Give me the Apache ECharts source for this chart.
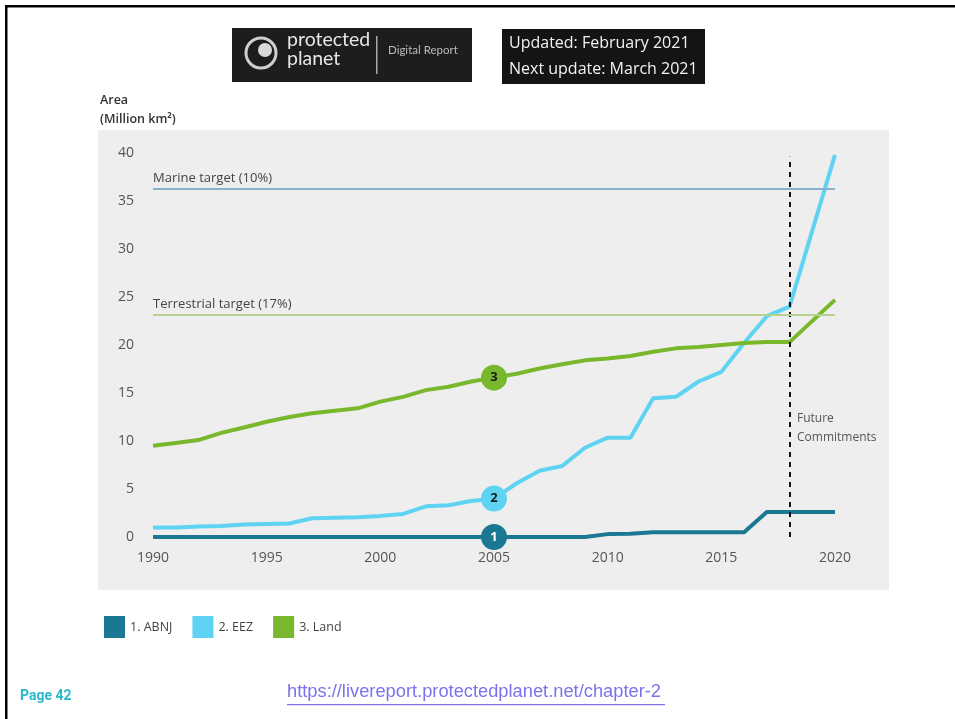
<!DOCTYPE html>
<html>
<head>
<meta charset="utf-8">
<script src="https://cdn.jsdelivr.net/npm/echarts@6/dist/echarts.min.js"></script>
<style>
html,body{margin:0;padding:0;background:#fff;}
#chart{width:955px;height:719px;}
</style>
</head>
<body>
<div id="chart"></div>
<script>
const years = [1990,1991,1992,1993,1994,1995,1996,1997,1998,1999,2000,2001,2002,2003,2004,2005,2006,2007,2008,2009,2010,2011,2012,2013,2014,2015,2016,2017,2018,2020];
const abnj = [0,0,0,0,0,0,0,0,0,0,0,0,0,0,0,0,0,0,0,0,0.3,0.35,0.5,0.5,0.5,0.5,0.5,2.6,2.6,2.6];
const eez  = [1.0,1.0,1.1,1.15,1.3,1.35,1.4,1.95,2.0,2.05,2.2,2.4,3.2,3.3,3.75,4.0,5.6,6.9,7.4,9.3,10.35,10.35,14.45,14.6,16.2,17.2,20.2,23.0,24.0,39.8];
const land = [9.5,9.8,10.1,10.85,11.4,12.0,12.5,12.9,13.15,13.4,14.1,14.6,15.3,15.65,16.2,16.6,17.0,17.55,18.0,18.4,18.6,18.85,19.3,19.65,19.8,20.0,20.2,20.3,20.3,24.7];
const seriesNames = ['1. ABNJ','2. EEZ','3. Land'];
const bubbleLabels = ['1','2','3'];
const bubbleYear = 2005;
const marineTarget = 36.3;
const terrestrialTarget = 23.1;
const futureYear = 2018;
const xTicks = {min:1990, max:2020, interval:5};
const yTicks = {min:0, max:40, interval:5};

const colors = ['#1b7893','#5fd3f2','#79b82c'];
const font = '"Open Sans", Lato, sans-serif';

function pairs(vals){ return years.map((y,i)=>[y, vals[i]]); }
function bubble(vals, idx, labelColor){
  const v = vals[years.indexOf(bubbleYear)];
  return {
    symbol:'circle', symbolSize:26,
    data:[{coord:[bubbleYear, v], value:bubbleLabels[idx]}],
    itemStyle:{color:colors[idx]},
    label:{show:true, formatter:bubbleLabels[idx], color:labelColor, fontWeight:'bold', fontSize:13, fontFamily:font},
    silent:true
  };
}

const chart = echarts.init(document.getElementById('chart'), null, {renderer:'canvas'});
chart.setOption({
  animation:false,
  backgroundColor:'#ffffff',
  grid:{left:153, right:120, top:153, bottom:182},
  xAxis:{type:'value', min:xTicks.min, max:xTicks.max, interval:xTicks.interval,
    axisLine:{show:false}, axisTick:{show:false}, splitLine:{show:false},
    axisLabel:{color:'#555', fontSize:14, fontFamily:font, margin:14, formatter:v=>String(v)}},
  yAxis:{type:'value', min:yTicks.min, max:yTicks.max, interval:yTicks.interval,
    axisLine:{show:false}, axisTick:{show:false}, splitLine:{show:false},
    axisLabel:{color:'#555', fontSize:14, fontFamily:font, margin:19}},
  legend:{left:99, top:611, icon:'rect', itemWidth:21, itemHeight:22, itemGap:20,
    textStyle:{color:'#444', fontSize:12.5, fontFamily:font}, data:seriesNames},
  series:[
    {name:seriesNames[0], type:'line', data:pairs(abnj), showSymbol:false, z:4,
      lineStyle:{color:colors[0], width:4}, itemStyle:{color:colors[0]},
      markPoint:bubble(abnj,0,'#ffffff'),
      markLine:{silent:true, symbol:'none',
        data:[[{coord:[futureYear, 0]}, {coord:[futureYear, 39.6]}]],
        lineStyle:{color:'#111', type:[5,5], width:2},
        label:{show:false}}},
    {name:seriesNames[1], type:'line', data:pairs(eez), showSymbol:false, z:3,
      lineStyle:{color:colors[1], width:4}, itemStyle:{color:colors[1]},
      markPoint:bubble(eez,1,'#1a1a1a'),
      markLine:{silent:true, symbol:'none',
        data:[{yAxis:marineTarget, name:'Marine target (10%)'}],
        lineStyle:{color:'#86b3cb', type:'solid', width:2},
        label:{show:true, position:'insideStartTop', formatter:'{b}', color:'#444', fontSize:13, fontFamily:font, distance:[0,4]}}},
    {name:seriesNames[2], type:'line', data:pairs(land), showSymbol:false, z:3,
      lineStyle:{color:colors[2], width:4}, itemStyle:{color:colors[2]},
      markPoint:bubble(land,2,'#1a1a1a'),
      markLine:{silent:true, symbol:'none',
        data:[{yAxis:terrestrialTarget, name:'Terrestrial target (17%)'}],
        lineStyle:{color:'#b7d28e', type:'solid', width:2},
        label:{show:true, position:'insideStartTop', formatter:'{b}', color:'#444', fontSize:13, fontFamily:font, distance:[0,4]}}}
  ],
  graphic:[
    {type:'rect', z:-10, shape:{x:98, y:130, width:791, height:460}, style:{fill:'#eeeeee'}},
    {type:'rect', z:10, shape:{x:5, y:5, width:950, height:2.5}, style:{fill:'#000'}},
    {type:'rect', z:10, shape:{x:5, y:5, width:2.5, height:714}, style:{fill:'#000'}},
    {type:'text', z:10, left:100, top:91, style:{text:'Area\n(Million km²)', fill:'#333', font:'600 12.5px '+font, lineHeight:19}},
    {type:'text', z:10, left:797, top:409, style:{text:'Future\nCommitments', fill:'#555', font:'12px '+font, lineHeight:19}},
    // header logo box
    {type:'rect', z:10, shape:{x:232, y:28, width:240, height:54}, style:{fill:'#1d1d1d'}},
    {type:'circle', z:11, shape:{cx:261, cy:53, r:15}, style:{fill:'#1d1d1d', stroke:'#cfcfcf', lineWidth:3}},
    {type:'circle', z:11, shape:{cx:265, cy:50, r:7}, style:{fill:'#d8d8d8'}},
    {type:'text', z:11, left:287, top:30, style:{text:'protected', fill:'#e6e6e6', font:'19.5px Lato, sans-serif'}},
    {type:'text', z:11, left:287, top:49, style:{text:'planet', fill:'#e6e6e6', font:'19.5px Lato, sans-serif'}},
    {type:'rect', z:11, shape:{x:376, y:36, width:1.5, height:38}, style:{fill:'#aaa'}},
    {type:'text', z:11, left:388, top:44, style:{text:'Digital Report', fill:'#bbbbbb', font:'11.5px Lato, sans-serif'}},
    // update box
    {type:'rect', z:10, shape:{x:502, y:29, width:203, height:55}, style:{fill:'#141414'}},
    {type:'text', z:11, left:509, top:35, style:{text:'Updated: February 2021', fill:'#f2f2f2', font:'16px '+font}},
    {type:'text', z:11, left:509, top:61, style:{text:'Next update: March 2021', fill:'#f2f2f2', font:'16px '+font}},
    // footer
    {type:'text', z:10, left:20, top:689, style:{text:'Page 42', fill:'#2bb8cc', font:'bold 14px "Liberation Sans Narrow", Roboto, sans-serif'}},
    {type:'text', z:10, left:287, top:683, style:{text:'https://livereport.protectedplanet.net/chapter-2', fill:'#7c72ec', font:'18.3px "Liberation Sans", Arial, sans-serif'}},
    {type:'rect', z:10, shape:{x:287, y:704, width:378, height:1.2}, style:{fill:'#7c72ec'}}
  ]
});
</script>
</body>
</html>
